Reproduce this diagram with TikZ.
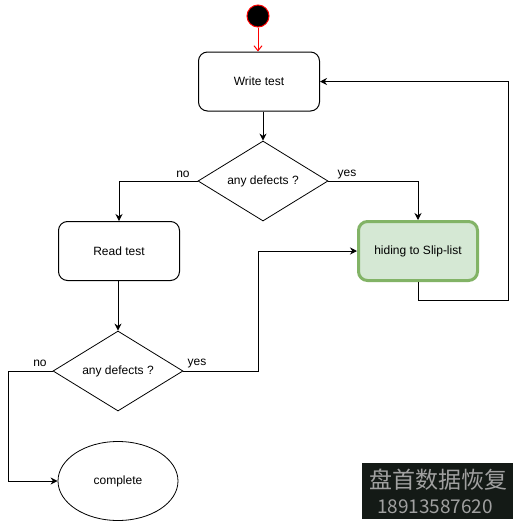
\documentclass[tikz,border=0pt]{standalone}
\usepackage{fontspec}
\setmainfont{Liberation Sans}
\newfontfamily\cjk{Noto Sans CJK SC}
\usetikzlibrary{arrows.meta,shapes.geometric}
\definecolor{gfill}{HTML}{D5E8D4}
\definecolor{gline}{HTML}{82B366}
\definecolor{wmgray}{HTML}{A0A0A0}
\definecolor{wmbg}{HTML}{141A16}
\begin{document}
\begin{tikzpicture}[x=1pt,y=-1pt,
  every node/.style={font=\fontsize{12}{14}\selectfont},
  startdot/.style={circle,draw=red,fill=black,line width=1pt,minimum size=22pt,inner sep=0pt},
  procbox/.style={draw,rounded corners=9pt,line width=1pt,minimum width=121pt,minimum height=59pt,inner sep=0pt},
  hidebox/.style={draw=gline,fill=gfill,rounded corners=9pt,line width=3pt,minimum width=119pt,minimum height=59pt,inner sep=0pt},
  decision/.style={diamond,draw,line width=0.8pt,minimum width=130pt,minimum height=80pt,inner sep=0pt,aspect=1.625},
  endell/.style={ellipse,draw,line width=0.8pt,minimum width=120pt,minimum height=79pt,inner sep=0pt},
  flow/.style={line width=1pt,-{Stealth[length=7pt,width=7pt]}},
  startflow/.style={draw=red,line width=1pt,-{Straight Barb[length=5pt,width=8pt]}},
  lbl/.style={inner sep=0pt}
]
\useasboundingbox (0,0) rectangle (518,523);
\fill[white] (0,0) rectangle (518,523);

\node[startdot] (start) at (258,16) {};
\node[procbox] (write) at (259,81.5) {Write test};
\node[decision] (d1) at (263,181) {any defects ?};
\node[procbox] (read) at (119,251) {Read test};
\node[hidebox] (hide) at (418,251) {hiding to Slip-list};
\node[decision] (d2) at (118,371) {any defects ?};
\node[endell] (done) at (118,481) {complete};

\node[lbl] (no1) at (183,174.5) {no};
\node[lbl] (yes1) at (347,174.5) {yes};
\node[lbl] (no2) at (40,363.5) {no};
\node[lbl] (yes2) at (197,363.5) {yes};

\coordinate (loopR) at (508,300);
\coordinate (j2) at (258,371);
\coordinate (j3) at (8,371);

\draw[startflow] (start.south) -- (write.north -| start.south);
\draw[flow] (d1.north |- write.south) -- (d1.north);
\draw[flow] (d1.west) -| (read.north);
\draw[flow] (d1.east) -| (hide.north);
\draw[flow] (hide.south) |- (loopR) |- (write.east);
\draw[flow] (d2.north |- read.south) -- (d2.north);
\draw[flow] (d2.east) -- (j2) |- (hide.west);
\draw[flow] (d2.west) -- (j3) |- (done.west);

\fill[wmbg] (362,463) rectangle (513,519);
\node[text=wmgray,font=\cjk\fontsize{23}{25}\selectfont,inner sep=0pt] (wm1) at (438,480) {盘首数据恢复};
\node[text=wmgray,font=\cjk\fontsize{19}{21}\selectfont,inner sep=0pt] (wm2) at (435,507) {18913587620};
\end{tikzpicture}
\end{document}
